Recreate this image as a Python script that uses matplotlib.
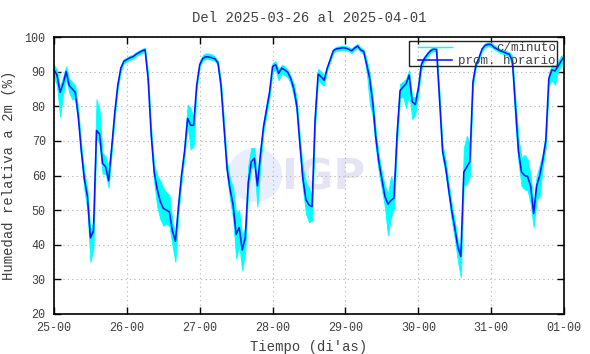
import numpy as np
import matplotlib
matplotlib.use("Agg")
import matplotlib.pyplot as plt
from matplotlib.patches import Rectangle, Ellipse

# ---- data: hourly averages (prom. horario) per day ----
day25 = [90.5, 89, 84, 86.5, 90, 86, 85, 84, 77, 67, 59, 54, 42, 44, 73, 72, 63.5, 62.5, 58.5, 68, 78, 86, 91, 93]
day26 = [93.5, 94, 94.3, 95, 95.5, 96, 96.3, 88, 72, 61, 56, 52.5, 50.5, 50, 49.5, 44, 41, 51, 60, 67, 76.5, 74.5, 74.5, 86]
day27 = [92, 93.8, 94.3, 94.2, 94, 93.7, 92.5, 86, 74, 62, 56, 51.5, 43, 45, 38.5, 42, 58, 64, 65, 57, 66, 74, 79, 84]
day28 = [91.5, 92, 89.5, 91, 90.5, 89.8, 88, 85, 80, 69, 59, 53, 51.5, 51, 76, 89.3, 88.5, 87.5, 91, 93.5, 96, 96.6, 96.7, 96.9]
day29 = [96.8, 96.5, 96, 96.8, 97.4, 96.3, 95.8, 92, 88, 81, 71, 64, 59, 54, 51.7, 52.8, 53.5, 71.7, 84.5, 85.6, 86.5, 89, 81.3, 80.5]
day30 = [85, 92, 93.8, 95, 96, 96.5, 96.4, 82, 67, 62.5, 56, 50, 45, 39.5, 36.6, 61, 62.5, 64, 87, 92, 94, 96.5, 97.6, 97.9]
day31 = [97.8, 97, 96.5, 96, 95.7, 95.3, 95, 93, 80, 67, 61, 60, 59.7, 57, 49, 57, 60, 64.5, 70, 88, 90.5, 90.2, 91.5, 93]
last_value = [94.3]

# ---- per-minute data: hourly spread below / above the hourly mean ----
lo25 = [2, 3, 7, 3, 2, 2, 3, 2, 2, 2, 3, 4, 7, 5, 2, 3, 3, 2, 2, 1.5, 1.5, 1, 1, 0.6]
hi25 = [1.5, 1.5, 1.5, 2, 1.5, 2, 2, 2, 2, 2, 2, 2, 2, 3, 9, 7, 3, 3, 4, 2, 1.5, 1, 0.6, 0.6]
lo26 = [0.6, 0.6, 0.6, 0.6, 0.6, 0.6, 0.6, 2, 2, 3, 5, 5, 5, 4, 4, 4, 6, 2, 2, 1.5, 2, 7, 6, 1]
hi26 = [0.6, 0.6, 0.6, 0.6, 0.6, 0.6, 0.6, 1.5, 2, 2, 4, 6, 6, 5, 5, 3, 2, 2, 1.5, 1.5, 4, 5, 2, 1]
lo27 = [0.6, 0.6, 0.6, 0.6, 0.6, 0.6, 0.6, 1.5, 2, 2, 3, 4, 7, 5, 6, 4, 2, 2, 2, 6, 3, 1.5, 1.5, 1.5]
hi27 = [1, 1, 1, 1, 1, 0.6, 0.6, 1.5, 2, 2, 3, 5, 6, 5, 4, 3, 5, 4, 3, 2, 2, 1.5, 1.5, 1.5]
lo28 = [1.5, 1.5, 2, 1.5, 1.5, 1.5, 1.5, 2, 2, 2, 3, 4, 5, 4, 2, 1.5, 2, 1.5, 0.6, 0.6, 0.6, 0.6, 0.6, 0.6]
hi28 = [1, 1, 1, 1, 1, 0.6, 0.6, 1.5, 2, 2, 3, 5, 5, 3, 4, 1.5, 1.5, 1.5, 0.6, 0.6, 0.6, 0.6, 0.6, 0.6]
lo29 = [0.6, 0.6, 0.6, 0.6, 0.6, 0.6, 0.6, 2, 7, 4, 3, 3, 3, 3, 9, 5, 3, 3, 2, 3, 7, 5, 5, 3]
hi29 = [0.6, 0.6, 0.6, 0.6, 0.6, 0.6, 0.6, 1.5, 1.5, 2, 2, 2, 2, 3, 3, 7, 4, 3, 2, 1.5, 1.5, 1.5, 1.5, 2]
lo30 = [1.5, 1.5, 0.6, 0.6, 0.6, 0.6, 0.6, 2, 2, 2, 2, 3, 3, 4, 6, 4, 5, 4, 1.5, 0.6, 0.6, 0.6, 0.6, 0.6]
hi30 = [1.5, 1, 0.6, 0.6, 0.6, 0.6, 0.6, 2, 2, 2, 2, 2, 2, 2, 2, 7, 9, 5, 1.5, 0.6, 0.6, 0.6, 0.6, 0.6]
lo31 = [0.6, 0.6, 0.6, 0.6, 0.6, 0.6, 0.6, 2, 5, 3, 4, 4, 4, 5, 4, 4, 6, 2, 2, 2, 3, 4, 1.5, 1.5]
hi31 = [0.6, 0.6, 0.6, 0.6, 0.6, 0.6, 0.6, 1.5, 2, 4, 4, 6, 5, 3, 3, 3, 3, 2, 2, 1.5, 1.5, 1.5, 1.5, 1.5]
lo_last = [1.5]
hi_last = [0.6]

tick_labels = ["25-00", "26-00", "27-00", "28-00", "29-00", "30-00", "31-00", "01-00"]
y_ticks = [20, 30, 40, 50, 60, 70, 80, 90, 100]

hourly = np.array(day25 + day26 + day27 + day28 + day29 + day30 + day31 + last_value)
lo = np.array(lo25 + lo26 + lo27 + lo28 + lo29 + lo30 + lo31 + lo_last)
hi = np.array(hi25 + hi26 + hi27 + hi28 + hi29 + hi30 + hi31 + hi_last)
hours = np.arange(len(hourly))

FONT = "Liberation Mono"
TXT = "#404040"

fig = plt.figure(figsize=(5.9, 3.54), dpi=100)
ax = fig.add_axes([54 / 590, 40 / 354, 510 / 590, 277 / 354])
ax.set_zorder(1)
ax.set_facecolor("none")

# watermark (behind the axes content)
fig.patches.append(Ellipse((255 / 590, 1 - 175 / 354), 54 / 590, 54 / 354,
                           transform=fig.transFigure, facecolor="#e8eefb",
                           edgecolor="none", zorder=0))
fig.text(323 / 590, 1 - 178 / 354, "IGP", fontsize=31, fontweight="bold",
         family="DejaVu Sans", color="#e4e4f5", ha="center", va="center", zorder=0)

ax.fill_between(hours, hourly - lo, hourly + hi, color="#00ffff", linewidth=0.6,
                edgecolor="#00ffff", zorder=2)
ax.plot(hours, hourly, color="#0a14ff", linewidth=1.15, zorder=3)

ax.set_xlim(0, 168)
ax.set_ylim(20, 100)
ax.set_xticks(np.arange(0, 169, 24))
ax.set_xticklabels(tick_labels)
ax.set_yticks(y_ticks)
ax.tick_params(direction="in", length=5, width=1, top=True, right=True,
               labelsize=8.5, labelcolor=TXT, pad=6)
for lab in ax.get_xticklabels() + ax.get_yticklabels():
    lab.set_family(FONT)
ax.grid(True, color="#b0b0b0", linestyle=(0, (1, 3)), linewidth=0.8)
for s in ax.spines.values():
    s.set_linewidth(1.2)
    s.set_zorder(5)

ax.set_title("Del 2025-03-26 al 2025-04-01", family=FONT, fontsize=10, color=TXT, pad=11)
ax.set_xlabel("Tiempo (di'as)", family=FONT, fontsize=10, color=TXT, labelpad=4)
ax.set_ylabel("Humedad relativa a 2m (%)", family=FONT, fontsize=10, color=TXT, labelpad=6)

# legend (gnuplot style, right-aligned text, transparent box)
ax.add_patch(Rectangle((0.696, 0.895), 0.290, 0.091, transform=ax.transAxes,
                       fill=False, edgecolor="#202020", linewidth=1.0, zorder=6))
ax.plot([0.714, 0.780], [0.963, 0.963], transform=ax.transAxes, color="#00ffff",
        linewidth=1.0, zorder=6)
ax.plot([0.714, 0.780], [0.917, 0.917], transform=ax.transAxes, color="#0a14ff",
        linewidth=1.15, zorder=6)
ax.text(0.984, 0.961, "c/minuto", transform=ax.transAxes, ha="right", va="center",
        family=FONT, fontsize=9, color=TXT, zorder=6)
ax.text(0.984, 0.915, "prom. horario", transform=ax.transAxes, ha="right", va="center",
        family=FONT, fontsize=9, color=TXT, zorder=6)

fig.savefig("out.png", dpi=100)
